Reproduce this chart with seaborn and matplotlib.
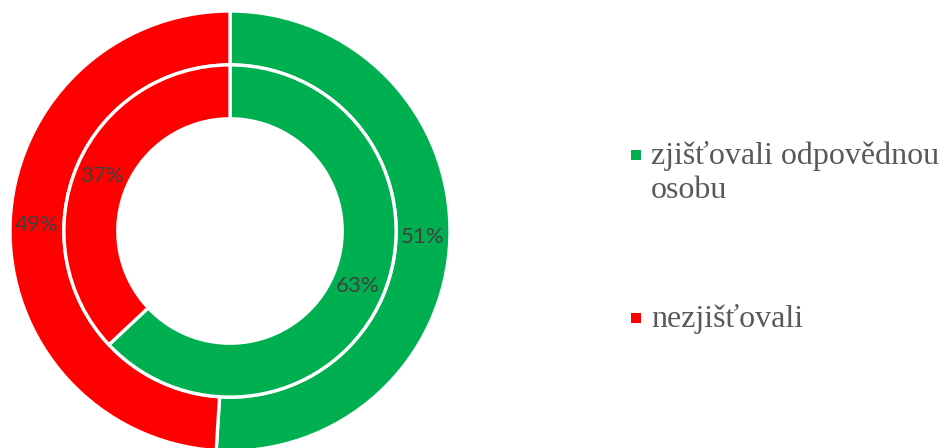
import matplotlib
matplotlib.use("Agg")
from matplotlib import pyplot as plt
from matplotlib.patches import Rectangle
import seaborn as sns

# data
categories = ["zjišťovali odpovědnou\nosobu", "nezjišťovali"]
outer_values = [51, 49]
inner_values = [63, 37]
colors = ["#00B050", "#FF0000"]

sns.set_theme(style="white")
plt.rcParams["font.family"] = ["Lato", "DejaVu Sans"]

fig = plt.figure(figsize=(9.44, 4.48), dpi=100)
ax = fig.add_axes([10 / 944, -3 / 448, 440 / 944, 440 / 448])

ring = 0.245
edge = dict(edgecolor="white", linewidth=2.4)

_, _, outer_txt = ax.pie(outer_values, radius=1.0, colors=colors, startangle=90,
                         counterclock=False, autopct="%1.0f%%", pctdistance=1 - ring / 2,
                         wedgeprops=dict(width=ring, **edge))
inner_r = 1 - ring
_, _, inner_txt = ax.pie(inner_values, radius=inner_r, colors=colors, startangle=90,
                         counterclock=False, autopct="%1.0f%%",
                         pctdistance=(inner_r - ring / 2) / inner_r,
                         wedgeprops=dict(width=ring, **edge))
for t in outer_txt + inner_txt:
    t.set_color("#404040")
    t.set_fontsize(16)

ax.set_xlim(-1, 1)
ax.set_ylim(-1, 1)
ax.set_aspect("equal")
ax.axis("off")

# legend
legend_y = [155 / 448, 318 / 448]
for lab, col, y in zip(categories, colors, legend_y):
    fig.patches.append(Rectangle((631 / 944, 1 - y - 5 / 448), 10 / 944, 10 / 448,
                                 transform=fig.transFigure, facecolor=col, edgecolor="none"))
    fig.text(651 / 944, 1 - y + 14 / 448, lab, ha="left", va="top",
             fontsize=23, color="#595959", family="Liberation Serif", linespacing=1.25)

plt.savefig("out.png", dpi=100)
plt.close()
